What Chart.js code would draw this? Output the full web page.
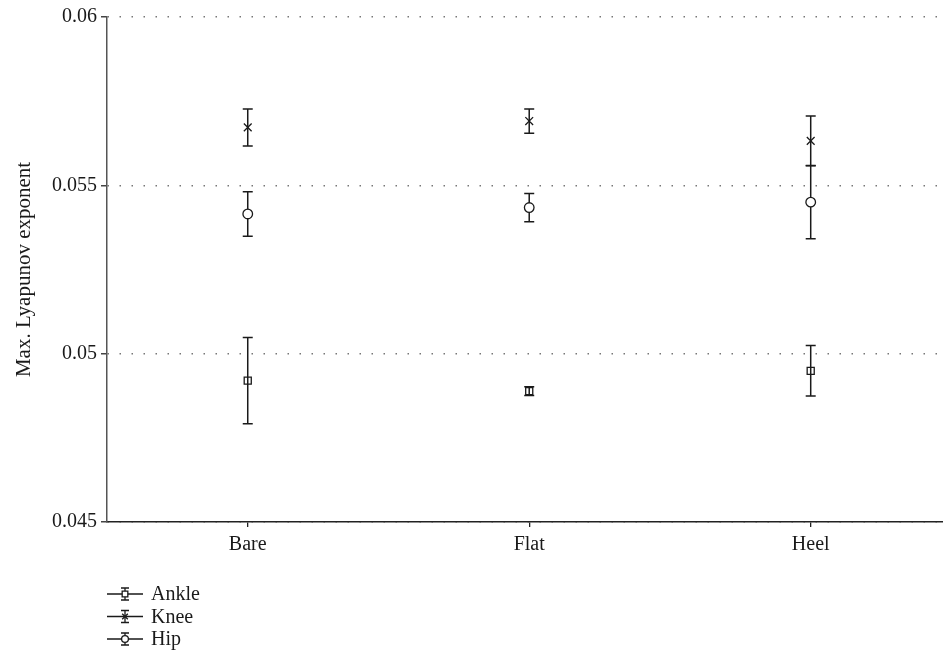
<!DOCTYPE html>
<html>
<head>
<meta charset="utf-8">
<script src="https://cdn.jsdelivr.net/npm/chart.js@4/dist/chart.umd.min.js"></script>
<style>
  html, body { margin: 0; padding: 0; background: #fff; }
  #wrap { width: 943px; height: 650px; }
</style>
</head>
<body>
<div id="wrap"><canvas id="chart"></canvas></div>
<script>
var conditions = ['Bare', 'Flat', 'Heel'];
var yTickValues = [0.045, 0.05, 0.055, 0.06];

var ankleMean = [0.04920, 0.04889, 0.04949];
var ankleErr = [0.00128, 0.00013, 0.00075];
var kneeMean = [0.05672, 0.05691, 0.05632];
var kneeErr = [0.00055, 0.00036, 0.00074];
var hipMean = [0.05415, 0.05434, 0.05450];
var hipErr = [0.00066, 0.00042, 0.00109];

var FONT = "'Liberation Serif', 'DejaVu Serif', serif";
var INK = '#1a1a1a';

const toPoints = (means) => means.map((m, i) => ({ x: i + 1, y: m }));

const makeSet = (label, means, errs, style, radius, fill) => ({
  label: label,
  data: toPoints(means),
  errors: errs,
  pointStyle: style,
  pointRadius: radius,
  pointHoverRadius: radius,
  pointBorderColor: INK,
  pointBackgroundColor: fill,
  pointBorderWidth: 1.3,
  showLine: false
});

// vertical error bars with caps, drawn under the markers
const errorBars = {
  id: 'errorBars',
  beforeDatasetsDraw(chart) {
    var ctx = chart.ctx;
    var xs = chart.scales.x, ys = chart.scales.y;
    ctx.save();
    ctx.strokeStyle = INK;
    ctx.lineWidth = 1.5;
    chart.data.datasets.forEach(ds => {
      ds.data.forEach((p, i) => {
        var e = ds.errors[i];
        var px = xs.getPixelForValue(p.x);
        var top = ys.getPixelForValue(p.y + e);
        var bot = ys.getPixelForValue(p.y - e);
        ctx.beginPath();
        ctx.moveTo(px, top); ctx.lineTo(px, bot);
        ctx.moveTo(px - 5, top); ctx.lineTo(px + 5, top);
        ctx.moveTo(px - 5, bot); ctx.lineTo(px + 5, bot);
        ctx.stroke();
      });
    });
    ctx.restore();
  }
};

// stacked legend under the plot
const stackLegend = {
  id: 'stackLegend',
  afterDraw(chart) {
    var ctx = chart.ctx;
    var x0 = 107, y0 = 594, step = 22.5;
    ctx.save();
    chart.data.datasets.forEach((ds, i) => {
      var y = y0 + i * step;
      ctx.strokeStyle = INK;
      ctx.lineWidth = 1.3;
      ctx.beginPath();
      ctx.moveTo(x0, y); ctx.lineTo(x0 + 36, y);
      var mx = x0 + 18;
      ctx.moveTo(mx, y - 6); ctx.lineTo(mx, y + 6);
      ctx.moveTo(mx - 4, y - 6); ctx.lineTo(mx + 4, y - 6);
      ctx.moveTo(mx - 4, y + 6); ctx.lineTo(mx + 4, y + 6);
      ctx.stroke();
      ctx.fillStyle = '#fff';
      ctx.strokeStyle = INK;
      Chart.helpers.drawPoint(ctx, {
        pointStyle: ds.pointStyle,
        radius: ds.pointStyle === 'circle' ? 3.4 : 4,
        borderWidth: 1
      }, mx, y);
      ctx.fillStyle = INK;
      ctx.font = '20px ' + FONT;
      ctx.textBaseline = 'middle';
      ctx.textAlign = 'left';
      ctx.fillText(ds.label, x0 + 44, y + 1);
    });
    ctx.restore();
  }
};

const createChart = () => {
  var ctx = document.getElementById('chart');
  new Chart(ctx, {
    type: 'scatter',
    data: {
      datasets: [
        makeSet('Ankle', ankleMean, ankleErr, 'rect', 5, 'rgba(255,255,255,0)'),
        makeSet('Knee', kneeMean, kneeErr, 'crossRot', 5.5, '#fff'),
        makeSet('Hip', hipMean, hipErr, 'circle', 4.8, '#fff')
      ]
    },
    options: {
      responsive: true,
      maintainAspectRatio: false,
      animation: false,
      layout: { autoPadding: false, padding: { top: 17, right: 0, left: 0, bottom: 0 } },
      plugins: {
        legend: { display: false },
        tooltip: { enabled: false }
      },
      scales: {
        x: {
          type: 'linear',
          min: 0.5,
          max: 3.47,
          afterBuildTicks: s => { s.ticks = conditions.map((c, i) => ({ value: i + 1 })); },
          afterFit: s => { s.height = 128; s.paddingLeft = 0; s.paddingRight = 0; },
          border: { color: '#222', width: 1.5 },
          grid: { drawOnChartArea: false, tickLength: 5, color: '#222', lineWidth: 1.3 },
          ticks: {
            color: INK,
            padding: 6,
            font: { family: FONT, size: 20 },
            callback: v => conditions[v - 1]
          }
        },
        y: {
          min: 0.045,
          max: 0.06,
          afterBuildTicks: s => { s.ticks = yTickValues.map(v => ({ value: v })); },
          afterFit: s => { s.width = 107; },
          border: { color: '#555', width: 1.5, dash: [1.5, 10.5] },
          grid: {
            color: '#777',
            lineWidth: 1.5,
            tickBorderDash: [],
            tickColor: '#444',
            tickLength: 6
          },
          ticks: {
            color: INK,
            padding: 4,
            font: { family: FONT, size: 20 },
            callback: v => String(+v.toFixed(3))
          },
          title: {
            display: true,
            text: 'Max. Lyapunov exponent',
            color: INK,
            padding: { top: 12, bottom: 0 },
            font: { family: FONT, size: 21 }
          }
        }
      }
    },
    plugins: [errorBars, stackLegend]
  });
};

createChart();
</script>
</body>
</html>
